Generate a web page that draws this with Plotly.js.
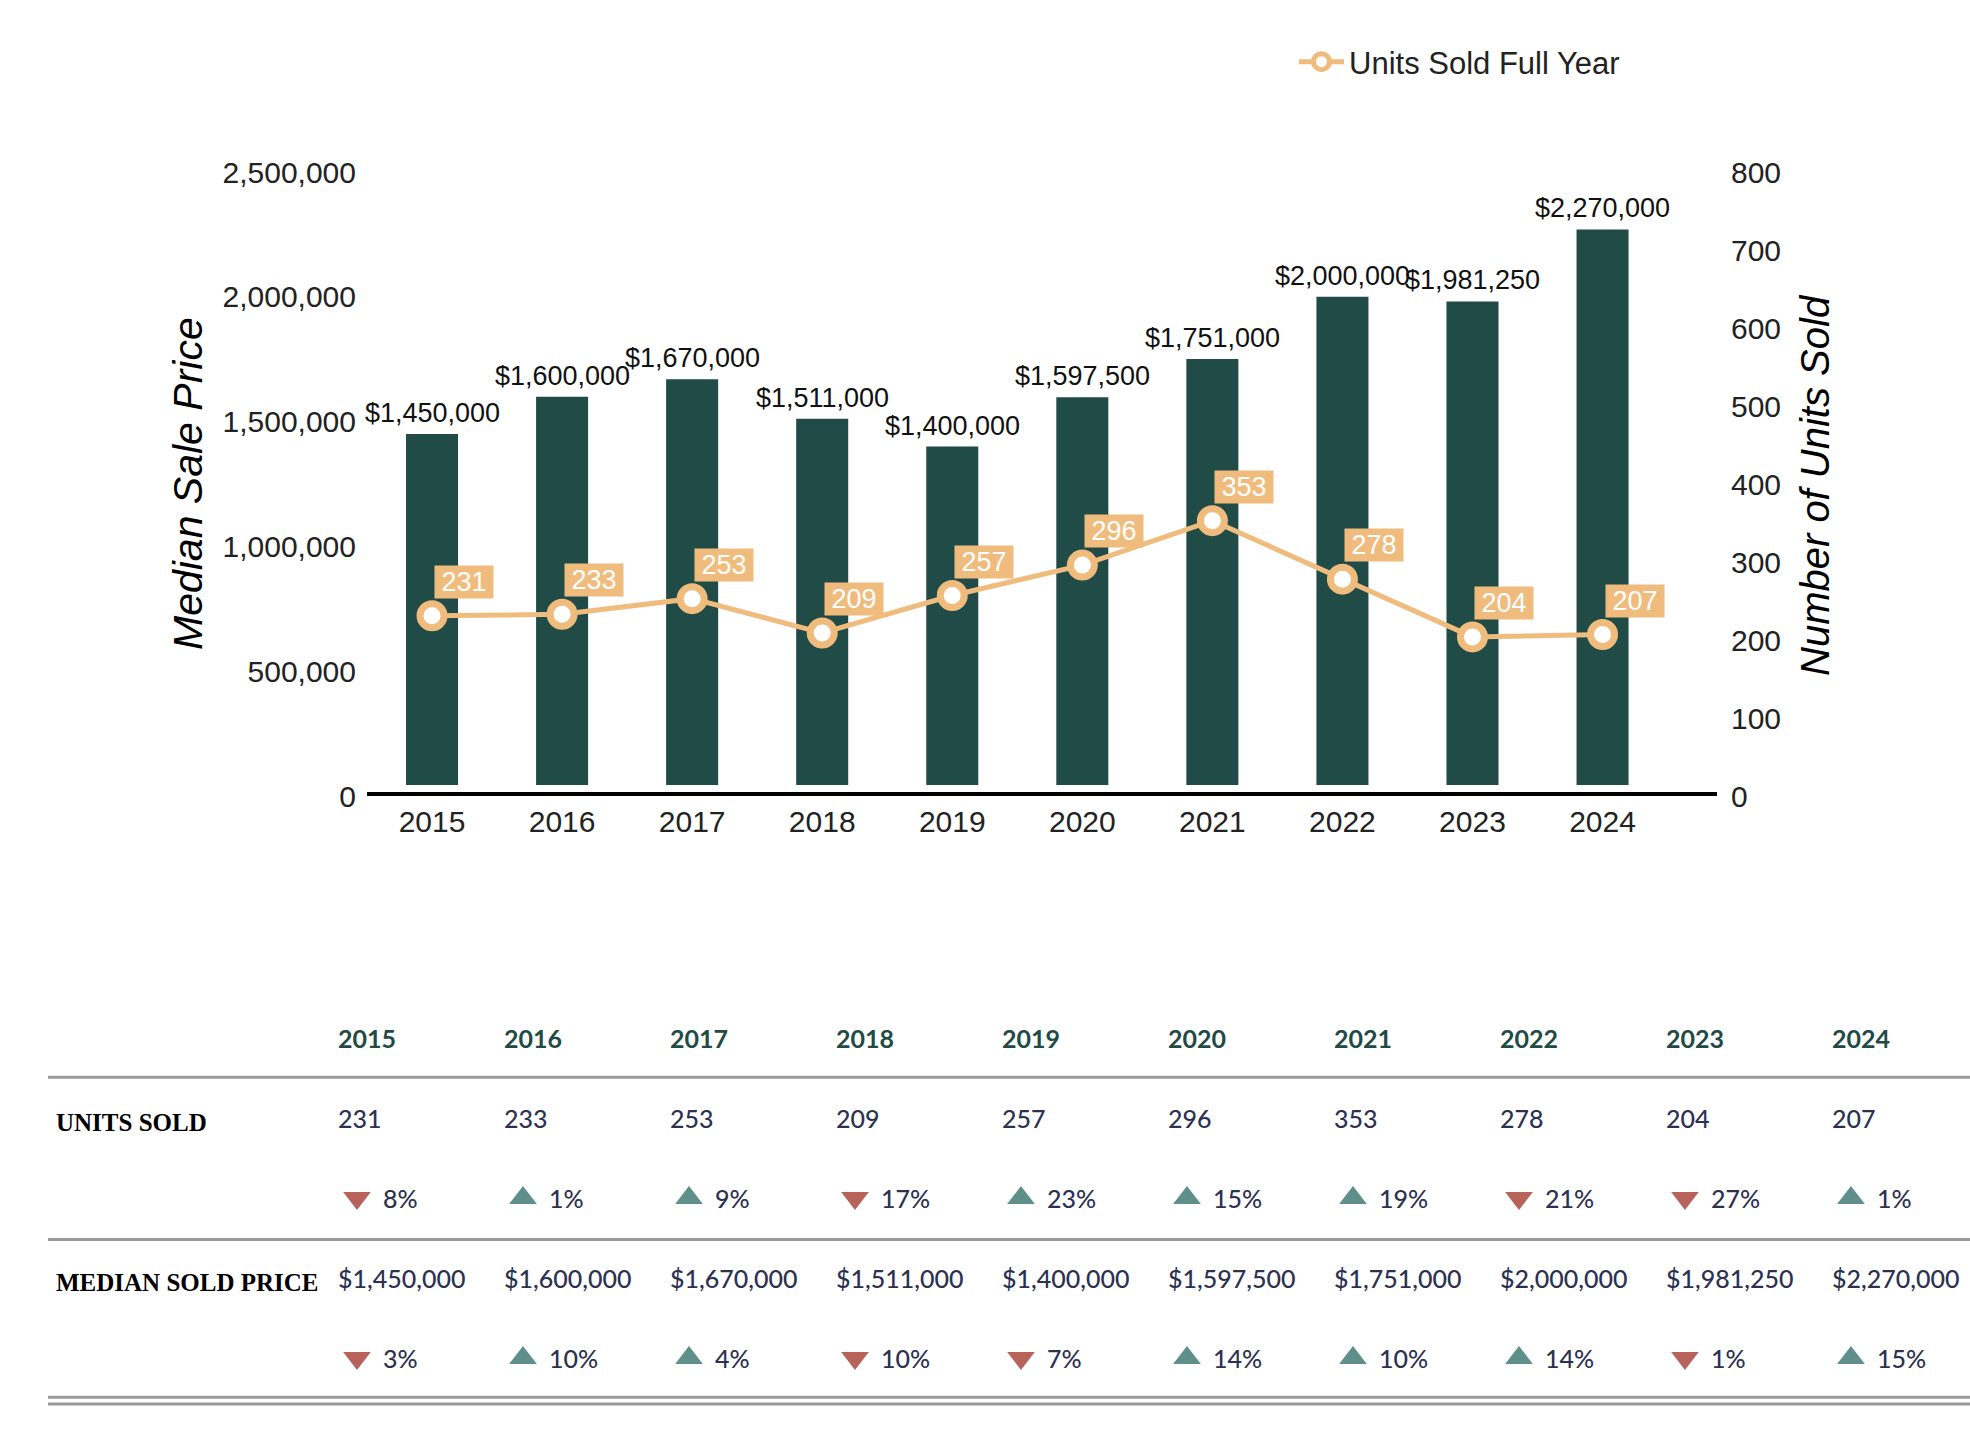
<!DOCTYPE html>
<html>
<head>
<meta charset="utf-8">
<script src="https://cdn.plot.ly/plotly-3.0.1.min.js"></script>
<style>
  html, body { margin: 0; padding: 0; background: #ffffff; }
  #chart { width: 1970px; height: 1436px; }
</style>
</head>
<body>
<div id="chart"></div>
<script>
// ---------------- DATA ----------------
const years = ['2015', '2016', '2017', '2018', '2019', '2020', '2021', '2022', '2023', '2024'];
const medianPrice = [1450000, 1600000, 1670000, 1511000, 1400000, 1597500, 1751000, 2000000, 1981250, 2270000];
const unitsSold = [231, 233, 253, 209, 257, 296, 353, 278, 204, 207];
const unitsChangePct = [-8, 1, 9, -17, 23, 15, 19, -21, -27, 1];
const priceChangePct = [-3, 10, 4, -10, -7, 14, 10, 14, -1, 15];
const rowLabels = ['UNITS SOLD', 'MEDIAN SOLD PRICE'];
const seriesName = 'Units Sold Full Year';
const leftTitle = 'Median Sale Price';
const rightTitle = 'Number of Units Sold';

// ---------------- STYLE ----------------
const W = 1970, H = 1436;
const BAR = '#204B46';
const ORANGE = '#F0BC7E';
const UP = '#5F8F8A';
const DOWN = '#B8635A';
const NAVY = '#2C3152';
const SANS = 'Liberation Sans, Arial, sans-serif';
const TABLE_FONT = 'Lato, Open Sans, sans-serif';
const SERIF = 'Liberation Serif, Times New Roman, serif';

const px = v => v / W;          // horizontal pixel -> paper
const py = v => 1 - v / H;      // vertical pixel -> paper
const money = v => '$' + v.toLocaleString('en-US');

const plotL = 367, plotR = 1717, plotT = 172, plotB = 796;

// ---------------- TRACES ----------------
const traces = [
  {
    type: 'bar', x: years, y: medianPrice, xaxis: 'x', yaxis: 'y',
    width: 0.4, marker: { color: BAR }, showlegend: false, hoverinfo: 'skip'
  },
  {
    type: 'scatter', mode: 'lines+markers', name: seriesName,
    x: years, y: unitsSold, xaxis: 'x', yaxis: 'y2',
    line: { color: ORANGE, width: 5 },
    marker: { size: 24, color: '#ffffff', line: { color: ORANGE, width: 7 } },
    hoverinfo: 'skip', cliponaxis: false
  },
  {
    type: 'scatter', mode: 'markers', x: years, y: years.map(() => 2),
    xaxis: 'x3', yaxis: 'y3', showlegend: false, hoverinfo: 'skip',
    marker: {
      size: 24,
      symbol: unitsChangePct.map(v => v < 0 ? 'triangle-down' : 'triangle-up'),
      color: unitsChangePct.map(v => v < 0 ? DOWN : UP)
    }
  },
  {
    type: 'scatter', mode: 'markers', x: years, y: years.map(() => 4),
    xaxis: 'x3', yaxis: 'y3', showlegend: false, hoverinfo: 'skip',
    marker: {
      size: 24,
      symbol: priceChangePct.map(v => v < 0 ? 'triangle-down' : 'triangle-up'),
      color: priceChangePct.map(v => v < 0 ? DOWN : UP)
    }
  }
];

// ---------------- ANNOTATIONS ----------------
// (on category axes, annotation x is the category's serial index)
const annotations = [];
const valFont = { family: TABLE_FONT, size: 25, color: NAVY, weight: 500 };
years.forEach((yr, i) => {
  annotations.push({
    xref: 'x', yref: 'y', x: i, y: medianPrice[i], text: money(medianPrice[i]),
    showarrow: false, xanchor: 'center', yanchor: 'middle', yshift: 21,
    font: { family: SANS, size: 27, color: '#111111' }
  });
  annotations.push({
    xref: 'x', yref: 'y2', x: i, y: unitsSold[i], text: String(unitsSold[i]),
    showarrow: false, xanchor: 'left', yanchor: 'bottom', xshift: 2, yshift: 17,
    bgcolor: ORANGE, width: 56, height: 30, borderpad: 1,
    font: { family: SANS, size: 27, color: '#ffffff' }
  });
  // table
  annotations.push({
    xref: 'x3', yref: 'y3', x: i, y: 0, text: yr, showarrow: false,
    xanchor: 'left', yanchor: 'middle', xshift: -21,
    font: { family: TABLE_FONT, size: 25, color: '#1F4A45', weight: 'bold' }
  });
  annotations.push({
    xref: 'x3', yref: 'y3', x: i, y: 1, text: String(unitsSold[i]), showarrow: false,
    xanchor: 'left', yanchor: 'middle', xshift: -21, font: valFont
  });
  annotations.push({
    xref: 'x3', yref: 'y3', x: i, y: 2, text: Math.abs(unitsChangePct[i]) + '%', showarrow: false,
    xanchor: 'left', yanchor: 'middle', xshift: 24, font: valFont
  });
  annotations.push({
    xref: 'x3', yref: 'y3', x: i, y: 3, text: money(medianPrice[i]), showarrow: false,
    xanchor: 'left', yanchor: 'middle', xshift: -21, font: valFont
  });
  annotations.push({
    xref: 'x3', yref: 'y3', x: i, y: 4, text: Math.abs(priceChangePct[i]) + '%', showarrow: false,
    xanchor: 'left', yanchor: 'middle', xshift: 24, font: valFont
  });
});
rowLabels.forEach((lab, k) => {
  annotations.push({
    xref: 'paper', yref: 'y3', x: px(54), y: 1 + 2 * k, text: lab, showarrow: false,
    xanchor: 'left', yanchor: 'middle', yshift: -4,
    font: { family: SERIF, size: 25, color: '#000000', weight: 'bold' }
  });
});
annotations.push({
  xref: 'paper', yref: 'paper', x: px(188), y: py(484), text: leftTitle, textangle: -90,
  xanchor: 'center', yanchor: 'middle',
  showarrow: false, font: { family: SANS, size: 41, color: '#000000', style: 'italic' }
});
annotations.push({
  xref: 'paper', yref: 'paper', x: px(1815), y: py(485), text: rightTitle, textangle: -90,
  xanchor: 'center', yanchor: 'middle',
  showarrow: false, font: { family: SANS, size: 40, color: '#000000', style: 'italic' }
});

// ---------------- SHAPES ----------------
const shapes = [
  { type: 'rect', layer: 'above', xref: 'paper', yref: 'y', x0: px(plotL - 5), x1: px(plotR + 5), y0: 0, y1: 44000,
    fillcolor: '#ffffff', line: { width: 0 } },
  { type: 'line', layer: 'above', xref: 'paper', yref: 'y', x0: px(plotL), x1: px(plotR), y0: 0, y1: 0,
    line: { color: '#000000', width: 8 } }
];
[0.49, 2.52, 4.49, 4.575].forEach(r => {
  shapes.push({ type: 'line', xref: 'paper', yref: 'y3', x0: px(48), x1: 1, y0: r, y1: r,
    line: { color: '#9B9B9B', width: 3 } });
});

// ---------------- LAYOUT ----------------
const tickFont = { family: SANS, size: 30, color: '#222222' };
const layout = {
  width: W, height: H,
  margin: { l: 0, r: 0, t: 0, b: 0 },
  paper_bgcolor: '#ffffff', plot_bgcolor: 'rgba(0,0,0,0)',
  showlegend: true,
  legend: {
    orientation: 'h', x: px(1294), xanchor: 'left', y: py(62), yanchor: 'middle',
    font: { family: SANS, size: 31, color: '#222222' }, itemwidth: 45, bgcolor: 'rgba(0,0,0,0)'
  },
  xaxis: {
    type: 'category', domain: [px(plotL), px(plotR)], range: [-0.5, 9.88], anchor: 'y',
    showline: false, showgrid: false, zeroline: false, ticks: '', tickfont: tickFont,
    ticklabelstandoff: 5
  },
  yaxis: {
    domain: [py(plotB), py(plotT)], range: [0, 2500000], dtick: 500000, tickformat: ',d',
    showgrid: false, zeroline: false, showline: false, ticks: '', tickfont: tickFont,
    ticklabelstandoff: 10, anchor: 'x'
  },
  yaxis2: {
    overlaying: 'y', side: 'right', anchor: 'x', range: [0, 800], dtick: 100,
    showgrid: false, zeroline: false, showline: false, ticks: '', tickfont: tickFont,
    ticklabelstandoff: 13
  },
  xaxis3: {
    type: 'category', domain: [0, 1], anchor: 'y3', range: [-2.1506, 9.717], visible: false
  },
  yaxis3: {
    domain: [0, 436 / H], anchor: 'x3', range: [4.975, -0.475], visible: false
  },
  annotations: annotations,
  shapes: shapes
};

Plotly.newPlot('chart', traces, layout, { staticPlot: true, displayModeBar: false });
</script>
</body>
</html>
